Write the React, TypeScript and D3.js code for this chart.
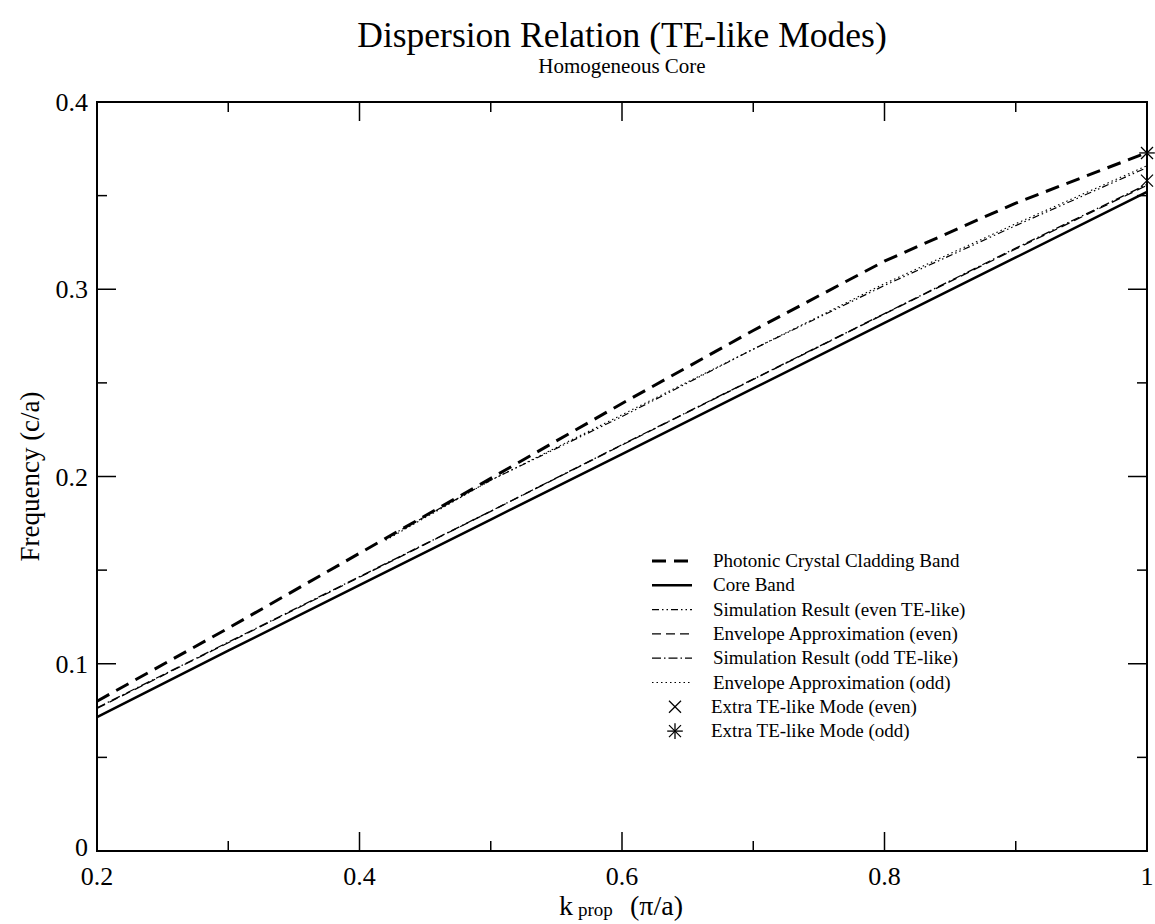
import React from "react";
import * as d3 from "d3";

const kBand = [0.2, 0.3, 0.4, 0.5, 0.6, 0.7, 0.8, 0.9, 1.0];
const claddingBand = [0.08, 0.119, 0.159, 0.199, 0.239, 0.278, 0.315, 0.346, 0.373];
const coreBand = [0.0715, 0.107, 0.142, 0.177, 0.212, 0.247, 0.282, 0.317, 0.352];
const simOdd = [0.0765, 0.1115, 0.1465, 0.1815, 0.217, 0.252, 0.287, 0.322, 0.356];
const envEven = [0.0762, 0.1112, 0.1462, 0.1814, 0.2168, 0.2518, 0.2868, 0.3215, 0.3555];
const kEven = [0.42, 0.5, 0.6, 0.7, 0.8, 0.9, 1.0];
const simEven = [0.167, 0.198, 0.232, 0.268, 0.302, 0.334, 0.365];
const envOdd = [0.166, 0.198, 0.233, 0.268, 0.303, 0.335, 0.366];
const extraEvenK = [1.0];
const extraEvenF = [0.358];
const extraOddK = [1.0];
const extraOddF = [0.3728];

const xMajor = [0.2, 0.4, 0.6, 0.8, 1.0];
const xMajorLabels = ["0.2", "0.4", "0.6", "0.8", "1"];
const xMinor = [0.3, 0.5, 0.7, 0.9];
const yMajor = [0, 0.1, 0.2, 0.3, 0.4];
const yMajorLabels = ["0", "0.1", "0.2", "0.3", "0.4"];
const yMinor = [0.05, 0.15, 0.25, 0.35];

const legendLabels = [
  "Photonic Crystal Cladding Band",
  "Core Band",
  "Simulation Result (even TE-like)",
  "Envelope Approximation (even)",
  "Simulation Result (odd TE-like)",
  "Envelope Approximation (odd)",
  "Extra TE-like Mode (even)",
  "Extra TE-like Mode (odd)",
];

const FONT = "'Liberation Serif', 'DejaVu Serif', serif";

const L = 97, R = 1147, T = 102, B = 851;

const styles = [
  { w: 3, dash: "14,8" },
  { w: 2.5, dash: "" },
  { w: 1.2, dash: "7,3,1.5,3,1.5,3" },
  { w: 1.3, dash: "9,5" },
  { w: 1.3, dash: "9,3,1.5,3" },
  { w: 1.1, dash: "1.5,3" },
];

function Cross({ cx, cy, s }: { cx: number; cy: number; s: number }) {
  return (
    <g stroke="#000" strokeWidth={1.3}>
      <line x1={cx - s} y1={cy - s} x2={cx + s} y2={cy + s} />
      <line x1={cx - s} y1={cy + s} x2={cx + s} y2={cy - s} />
    </g>
  );
}
function Star({ cx, cy, s }: { cx: number; cy: number; s: number }) {
  return (
    <g stroke="#000" strokeWidth={1.3}>
      <line x1={cx - s} y1={cy - s} x2={cx + s} y2={cy + s} />
      <line x1={cx - s} y1={cy + s} x2={cx + s} y2={cy - s} />
      <line x1={cx - s * 1.3} y1={cy} x2={cx + s * 1.3} y2={cy} />
      <line x1={cx} y1={cy - s * 1.3} x2={cx} y2={cy + s * 1.3} />
    </g>
  );
}

export default function App() {
  const x = d3.scaleLinear().domain([0.2, 1.0]).range([L, R]);
  const y = d3.scaleLinear().domain([0, 0.4]).range([B, T]);
  const line = d3
    .line<[number, number]>()
    .x((d) => x(d[0]))
    .y((d) => y(d[1]));
  const zip = (a: number[], b: number[]) => a.map((v, i) => [v, b[i]] as [number, number]);

  const series = [
    zip(kBand, claddingBand),
    zip(kBand, coreBand),
    zip(kEven, simEven),
    zip(kBand, envEven),
    zip(kBand, simOdd),
    zip(kEven, envOdd),
  ];

  const legendY0 = 561;
  const legendStep = 24.3;

  return (
    <svg width={1155} height={924} style={{ display: "block", position: "absolute", left: 0, top: 0 }}>
      <rect width={1155} height={924} fill="#fff" />
      <text x={622} y={47} fontFamily={FONT} fontSize={35.5} textAnchor="middle">
        Dispersion Relation (TE-like Modes)
      </text>
      <text x={622} y={73} fontFamily={FONT} fontSize={21} textAnchor="middle">
        Homogeneous Core
      </text>

      {series.map((s, i) => (
        <path
          key={i}
          d={line(s) || ""}
          fill="none"
          stroke="#000"
          strokeWidth={styles[i].w}
          strokeDasharray={styles[i].dash || undefined}
        />
      ))}

      {extraEvenK.map((k, i) => (
        <Cross key={"xe" + i} cx={x(k)} cy={y(extraEvenF[i])} s={6} />
      ))}
      {extraOddK.map((k, i) => (
        <Star key={"xo" + i} cx={x(k)} cy={y(extraOddF[i])} s={6} />
      ))}

      <rect x={L} y={T} width={R - L} height={B - T} fill="none" stroke="#000" strokeWidth={2} />

      <g stroke="#000" strokeWidth={1.5}>
        {xMajor.map((v) => (
          <g key={"xM" + v}>
            <line x1={x(v)} x2={x(v)} y1={B} y2={B - 19} />
            <line x1={x(v)} x2={x(v)} y1={T} y2={T + 19} />
          </g>
        ))}
        {xMinor.map((v) => (
          <g key={"xm" + v}>
            <line x1={x(v)} x2={x(v)} y1={B} y2={B - 10} />
            <line x1={x(v)} x2={x(v)} y1={T} y2={T + 10} />
          </g>
        ))}
        {yMajor.map((v) => (
          <g key={"yM" + v}>
            <line x1={L} x2={L + 19} y1={y(v)} y2={y(v)} />
            <line x1={R} x2={R - 19} y1={y(v)} y2={y(v)} />
          </g>
        ))}
        {yMinor.map((v) => (
          <g key={"ym" + v}>
            <line x1={L} x2={L + 10} y1={y(v)} y2={y(v)} />
            <line x1={R} x2={R - 10} y1={y(v)} y2={y(v)} />
          </g>
        ))}
      </g>

      {xMajor.map((v, i) => (
        <text key={"xl" + v} x={x(v)} y={885} fontFamily={FONT} fontSize={26} textAnchor="middle">
          {xMajorLabels[i]}
        </text>
      ))}
      {yMajor.map((v, i) => (
        <text
          key={"yl" + v}
          x={88}
          y={i === 0 ? y(v) + 5 : y(v) + 9}
          fontFamily={FONT}
          fontSize={26}
          textAnchor="end"
        >
          {yMajorLabels[i]}
        </text>
      ))}

      <text x={559} y={915} fontFamily={FONT} fontSize={28}>k</text>
      <text x={578} y={916} fontFamily={FONT} fontSize={19}>prop</text>
      <text x={630} y={915} fontFamily={FONT} fontSize={28}>(π/a)</text>

      <text
        transform={`translate(39, ${(T + B) / 2}) rotate(-90)`}
        fontFamily={FONT}
        fontSize={27}
        textAnchor="middle"
      >
        Frequency (c/a)
      </text>

      {legendLabels.map((lab, i) => {
        const ly = legendY0 + i * legendStep;
        return (
          <g key={"lg" + i}>
            {i < 6 ? (
              <line
                x1={652}
                x2={692}
                y1={ly}
                y2={ly}
                stroke="#000"
                strokeWidth={styles[i].w}
                strokeDasharray={styles[i].dash || undefined}
              />
            ) : i === 6 ? (
              <Cross cx={675} cy={ly} s={6} />
            ) : (
              <Star cx={675} cy={ly} s={6} />
            )}
            <text x={i < 6 ? 713 : 711} y={ly + 6} fontFamily={FONT} fontSize={19}>
              {lab}
            </text>
          </g>
        );
      })}
    </svg>
  );
}
